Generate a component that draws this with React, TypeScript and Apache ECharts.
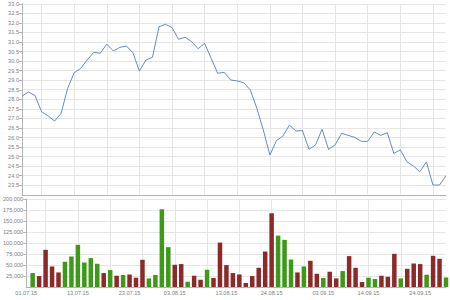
import React, { useEffect, useRef } from "react";
import * as echarts from "echarts";

const dates = [
  "01.07.15","02.07.15","03.07.15","06.07.15","07.07.15","08.07.15","09.07.15","10.07.15",
  "13.07.15","14.07.15","15.07.15","16.07.15","17.07.15","20.07.15","21.07.15","22.07.15",
  "23.07.15","24.07.15","27.07.15","28.07.15","29.07.15","30.07.15","31.07.15",
  "03.08.15","04.08.15","05.08.15","06.08.15","07.08.15","10.08.15","11.08.15","12.08.15",
  "13.08.15","14.08.15","17.08.15","18.08.15","19.08.15","20.08.15","21.08.15",
  "24.08.15","25.08.15","26.08.15","27.08.15","28.08.15","31.08.15",
  "01.09.15","02.09.15","03.09.15","04.09.15","07.09.15","08.09.15","09.09.15","10.09.15",
  "11.09.15","14.09.15","15.09.15","16.09.15","17.09.15","18.09.15","21.09.15","22.09.15",
  "23.09.15","24.09.15","25.09.15","28.09.15","29.09.15","30.09.15",
];

const tickLabels = ["01.07.15","13.07.15","23.07.15","03.08.15","13.08.15","24.08.15","03.09.15","14.09.15","24.09.15"];

const prices = [
  28.17, 28.38, 28.2, 27.35, 27.13, 26.86, 27.27, 28.58, 29.39, 29.62,
  30.06, 30.46, 30.41, 30.89, 30.53, 30.72, 30.79, 30.44, 29.48, 30.06,
  30.2, 31.8, 31.93, 31.75, 31.14, 31.25, 31.02, 30.65, 30.93, 30.15,
  29.36, 29.41, 29.01, 28.96, 28.87, 28.49, 27.53, 26.39, 25.08, 25.83,
  26.08, 26.65, 26.34, 26.36, 25.38, 25.61, 26.43, 25.38, 25.61, 26.22,
  26.11, 26.01, 25.8, 25.8, 26.29, 26.11, 26.25, 25.17, 25.35, 24.73,
  24.51, 24.21, 24.72, 23.51, 23.51, 24.0,
];

const volumes = [
  null, 31700, 24900, 84500, 46700, 33100, 57300, 69300, 95800, 55700,
  65700, 52800, 31700, 38500, 25600, 27200, 28500, 21100, 61800, 19500,
  27200, 176700, 90600, 50500, 52100, 12000, 25600, 16500, 39200, 20400,
  101000, 49800, 31700, 28500, 9100, 24900, 43700, 80600, 167600, 116900,
  107100, 62500, 33100, 46700, 59600, 30100, 20400, 34700, 19500, 36200,
  70200, 43700, 11300, 21100, 18100, 25600, 23300, 75400, 19500, 41400,
  53400, 52100, 27900, 70900, 64100, 21700,
];

// 1 = rising day, 0 = falling day
const rising = [
  0, 1, 0, 0, 0, 0, 1, 1, 1, 1,
  1, 1, 0, 1, 0, 1, 0, 0, 0, 1,
  1, 1, 1, 0, 0, 1, 0, 0, 1, 0,
  0, 0, 0, 0, 0, 0, 0, 0, 0, 1,
  1, 1, 0, 1, 0, 0, 1, 0, 0, 1,
  0, 0, 0, 1, 1, 0, 0, 0, 1, 0,
  0, 0, 1, 0, 0, 1,
];

const GREEN = "#3d9a18";
const RED = "#8c2a2a";
const TEXT = "#808080";
const GRIDLINE = "#e6e6e6";
const AXISLINE = "#b4b4b4";
const FONT = "Liberation Sans";

const isMonday = (s: string) => {
  const [d, m, y] = s.split(".").map(Number);
  return new Date(2000 + y, m - 1, d).getDay() === 1;
};

export default function App() {
  const ref = useRef<HTMLDivElement>(null);
  useEffect(() => {
    if (!ref.current) return;
    const chart = echarts.init(ref.current, undefined, { renderer: "svg" });
    const splitX = {
      show: true,
      interval: (i: number, v: string) => isMonday(v),
      lineStyle: { color: GRIDLINE, width: 1 },
    };
    const yCommon = {
      type: "value" as const,
      axisLine: { show: true, lineStyle: { color: AXISLINE } },
      axisTick: { show: true, length: 3, lineStyle: { color: AXISLINE } },
      splitLine: { show: true, lineStyle: { color: GRIDLINE } },
    };
    chart.setOption({
      animation: false,
      grid: [
        { left: 22, right: 4, top: 3.8, height: 191 },
        { left: 22, right: 4, top: 199, height: 88 },
      ],
      xAxis: [
        {
          type: "category",
          gridIndex: 0,
          data: dates,
          boundaryGap: false,
          axisLine: { lineStyle: { color: AXISLINE } },
          axisTick: { show: false },
          axisLabel: { show: false },
          splitLine: splitX,
        },
        {
          type: "category",
          gridIndex: 1,
          data: dates,
          boundaryGap: false,
          axisLine: { lineStyle: { color: AXISLINE } },
          axisTick: { show: false },
          axisLabel: {
            interval: (i: number, v: string) => tickLabels.includes(v),
            fontSize: 5.6,
            fontFamily: FONT,
            color: TEXT,
            margin: 3,
          },
          splitLine: splitX,
        },
      ],
      yAxis: [
        {
          ...yCommon,
          gridIndex: 0,
          min: 23,
          max: 33,
          interval: 0.5,
          axisLabel: {
            showMinLabel: false,
            formatter: (v: number) => v.toFixed(1),
            fontSize: 5.6,
            fontFamily: FONT,
            color: TEXT,
            margin: 3,
          },
        },
        {
          ...yCommon,
          gridIndex: 1,
          min: 0,
          max: 200000,
          interval: 25000,
          axisLabel: {
            showMinLabel: false,
            fontSize: 5.6,
            fontFamily: FONT,
            color: TEXT,
            margin: 3,
          },
        },
      ],
      series: [
        {
          type: "line",
          xAxisIndex: 0,
          yAxisIndex: 0,
          data: prices,
          symbol: "none",
          lineStyle: { color: "#6a8cb8", width: 1 },
        },
        {
          type: "bar",
          xAxisIndex: 1,
          yAxisIndex: 1,
          barWidth: 4.5,
          data: volumes.map((v, i) => ({
            value: v,
            itemStyle: { color: rising[i] ? GREEN : RED },
          })),
        },
      ],
    });
    return () => chart.dispose();
  }, []);
  return <div ref={ref} style={{ width: 450, height: 300, position: "absolute", left: 0, top: 0 }} />;
}
